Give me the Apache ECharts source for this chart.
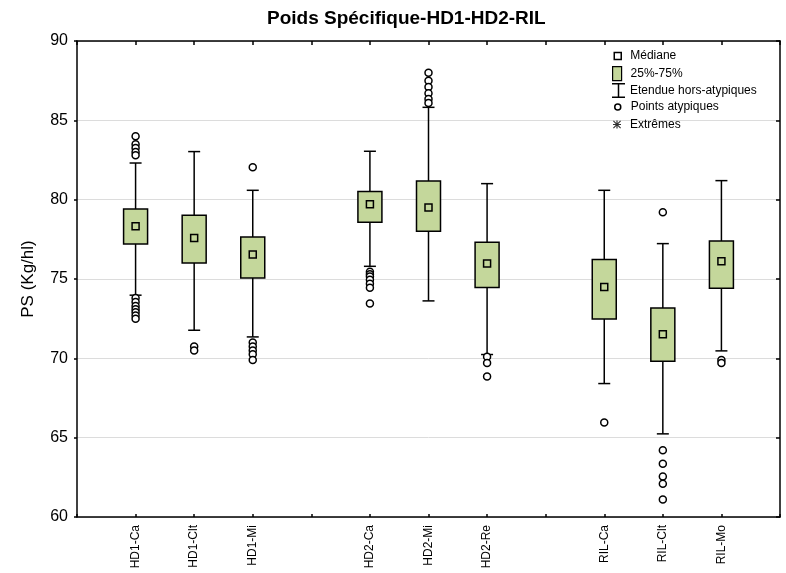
<!DOCTYPE html>
<html lang="fr">
<head>
<meta charset="UTF-8">
<title>Poids Spécifique</title>
<script src="https://cdn.jsdelivr.net/npm/echarts@6/dist/echarts.min.js"></script>
<style>
  html, body { margin: 0; padding: 0; background: #fff; }
  #main { width: 786px; height: 573px; }
</style>
</head>
<body>
<div id="main"></div>
<script>
// axe des x : les blancs servent d'espaces entre les groupes
var categories = ['', 'HD1-Ca', 'HD1-Clt', 'HD1-Mi', ' ', 'HD2-Ca', 'HD2-Mi', 'HD2-Re', '  ', 'RIL-Ca', 'RIL-Clt', 'RIL-Mo', '   '];
var groups = ['HD1-Ca', 'HD1-Clt', 'HD1-Mi', 'HD2-Ca', 'HD2-Mi', 'HD2-Re', 'RIL-Ca', 'RIL-Clt', 'RIL-Mo'];

// statistiques de chaque boite (Kg/hl)
var whiskerLow  = [73.98, 71.77, 71.35, 75.80, 73.62, 70.24, 68.41, 65.24, 70.47];
var q1          = [77.21, 76.01, 75.07, 78.58, 78.01, 74.46, 72.48, 69.82, 74.42];
var median      = [78.32, 77.59, 76.54, 79.71, 79.50, 75.97, 74.50, 71.52, 76.12];
var q3          = [79.41, 79.02, 77.65, 80.51, 81.18, 77.32, 76.23, 73.18, 77.40];
var whiskerHigh = [82.31, 83.03, 80.59, 83.05, 85.82, 81.01, 80.59, 77.23, 81.20];
var outliers = [
    [84.0, 83.5, 83.25, 83.0, 82.8, 73.8, 73.55, 73.3, 73.1, 72.9, 72.7, 72.5],
    [70.75, 70.5],
    [82.05, 71.0, 70.75, 70.5, 70.25, 69.9],
    [75.45, 75.3, 75.15, 74.95, 74.7, 74.45, 73.45],
    [88.0, 87.5, 87.1, 86.7, 86.35, 86.1],
    [70.1, 69.7, 68.85],
    [65.95],
    [79.2, 64.2, 63.35, 62.55, 62.1, 61.1],
    [69.9, 69.7]
];
var extremes = [];
var yTicks = [60, 65, 70, 75, 80, 85, 90];

var green = '#c4d79b';
var font = "'Liberation Sans', Arial, sans-serif";

var whiskerData = [], boxData = [], medianData = [], outlierData = [];
for (var i = 0; i < groups.length; i++) {
    var x = categories.indexOf(groups[i]);
    whiskerData.push([x, whiskerLow[i], whiskerHigh[i]]);
    boxData.push([x, q1[i], q3[i]]);
    medianData.push([x, median[i]]);
    for (var j = 0; j < outliers[i].length; j++) {
        outlierData.push([x, outliers[i][j]]);
    }
}

function renderWhisker(params, api) {
    var lo = api.coord([api.value(0), api.value(1)]);
    var hi = api.coord([api.value(0), api.value(2)]);
    var st = { stroke: '#000', lineWidth: 1.5 };
    return {
        type: 'group',
        children: [
            { type: 'line', shape: { x1: lo[0], y1: lo[1], x2: hi[0], y2: hi[1] }, style: st },
            { type: 'line', shape: { x1: lo[0] - 6, y1: lo[1], x2: lo[0] + 6, y2: lo[1] }, style: st },
            { type: 'line', shape: { x1: hi[0] - 6, y1: hi[1], x2: hi[0] + 6, y2: hi[1] }, style: st }
        ]
    };
}

function renderBox(params, api) {
    var a = api.coord([api.value(0), api.value(2)]);
    var b = api.coord([api.value(0), api.value(1)]);
    return {
        type: 'rect',
        shape: { x: a[0] - 12, y: a[1], width: 24, height: b[1] - a[1] },
        style: { fill: green, stroke: '#000', lineWidth: 1.5 }
    };
}

var ibeam = 'path://M0,0h13v1.5h-13z M5.75,0h1.5v15h-1.5z M0,13.5h13v1.5h-13z';
var star = 'path://M3.4,0h1.2v8h-1.2z M0,3.4h8v1.2h-8z M0.8,0L8,7.2L7.2,8L0,0.8z M7.2,0L8,0.8L0.8,8L0,7.2z';

function legendItem(name, icon, w, h, left, top, pad, style) {
    return {
        data: [{ name: name, icon: icon, itemStyle: style }],
        orient: 'vertical', left: left, top: top, padding: 0,
        itemWidth: w, itemHeight: h, selectedMode: false,
        textStyle: { fontFamily: font, fontSize: 12, color: '#000', padding: [0, 0, 0, pad] }
    };
}

var chart = echarts.init(document.getElementById('main'));
chart.setOption({
    animation: false,
    backgroundColor: '#fff',
    title: {
        text: 'Poids Spécifique-HD1-HD2-RIL',
        left: 262, top: 4,
        textStyle: { fontFamily: font, fontSize: 19, fontWeight: 'bold', color: '#000' }
    },
    legend: [
        legendItem('Médiane', 'rect', 7, 7, 613.5, 50, 4, { color: '#fff', borderColor: '#000', borderWidth: 1.5 }),
        legendItem('25%-75%', 'rect', 9, 14, 612, 66, 4, { color: green, borderColor: '#000', borderWidth: 1.2 }),
        legendItem('Etendue hors-atypiques', ibeam, 13, 15, 612, 83, 0, { color: '#000', borderWidth: 0 }),
        legendItem('Points atypiques', 'circle', 6, 6, 614, 101, 5, { color: '#fff', borderColor: '#000', borderWidth: 1.5 }),
        legendItem('Extrêmes', star, 8, 8, 613, 118.5, 4, { color: '#000', borderWidth: 0 })
    ],
    grid: { left: 77, right: 3, top: 41, bottom: 56 },
    xAxis: [{
        type: 'category', data: categories, boundaryGap: false,
        axisLine: { lineStyle: { color: '#000', width: 1.5 } },
        axisTick: { show: true, inside: true, length: 3, interval: 0, lineStyle: { color: '#000', width: 1.5 } },
        axisLabel: { interval: 0, rotate: 90, margin: 8, fontFamily: font, fontSize: 12, color: '#000' },
        splitLine: { show: false }
    }, {
        type: 'category', data: categories, boundaryGap: false, position: 'top',
        axisLine: { lineStyle: { color: '#000', width: 1.5 } },
        axisTick: { show: true, inside: true, length: 4, interval: 0, lineStyle: { color: '#000', width: 1.5 } },
        axisLabel: { show: false },
        splitLine: { show: false }
    }],
    yAxis: [{
        type: 'value', min: yTicks[0], max: yTicks[yTicks.length - 1], interval: 5,
        name: 'PS (Kg/hl)', nameLocation: 'middle', nameGap: 40,
        nameTextStyle: { fontFamily: font, fontSize: 17, color: '#000' },
        axisLine: { show: true, lineStyle: { color: '#000', width: 1.5 } },
        axisTick: { show: true, length: 3, lineStyle: { color: '#000', width: 1.5 } },
        axisLabel: { margin: 9, fontFamily: font, fontSize: 16, color: '#000' },
        splitLine: { show: true, lineStyle: { color: '#dcdcdc', width: 1 } }
    }, {
        type: 'value', min: yTicks[0], max: yTicks[yTicks.length - 1], interval: 5, position: 'right',
        axisLine: { show: true, lineStyle: { color: '#000', width: 1.5 } },
        axisTick: { show: true, inside: true, length: 4, lineStyle: { color: '#000', width: 1.5 } },
        axisLabel: { show: false },
        splitLine: { show: false }
    }],
    series: [{
        name: 'Etendue hors-atypiques', type: 'custom', renderItem: renderWhisker,
        data: whiskerData, encode: { x: 0, y: [1, 2] }, z: 2
    }, {
        name: '25%-75%', type: 'custom', renderItem: renderBox,
        data: boxData, encode: { x: 0, y: [1, 2] }, z: 3
    }, {
        name: 'Médiane', type: 'scatter', symbol: 'rect', symbolSize: 7,
        itemStyle: { color: green, borderColor: '#000', borderWidth: 1.5, opacity: 1 },
        data: medianData, z: 4
    }, {
        name: 'Points atypiques', type: 'scatter', symbol: 'circle', symbolSize: 7,
        itemStyle: { color: '#fff', borderColor: '#000', borderWidth: 1.5, opacity: 1 },
        data: outlierData, z: 4
    }, {
        name: 'Extrêmes', type: 'scatter', symbol: star, symbolSize: 8,
        itemStyle: { color: '#000' },
        data: extremes, z: 4
    }]
});
</script>
</body>
</html>
